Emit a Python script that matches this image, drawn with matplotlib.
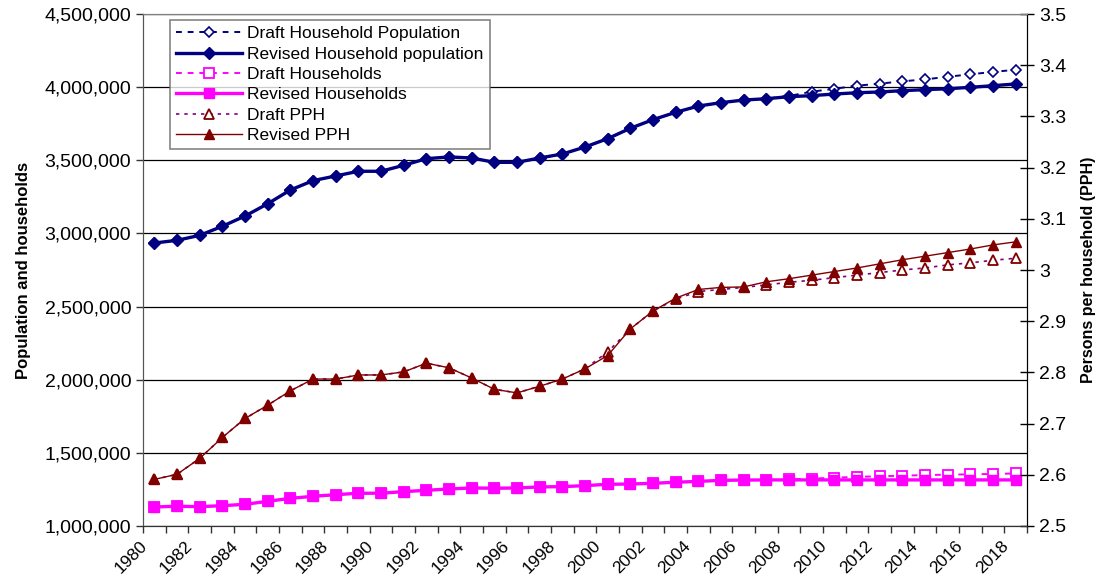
import matplotlib
matplotlib.use("Agg")
from matplotlib import pyplot as plt
from matplotlib.transforms import ScaledTranslation
import numpy as np

plt.rcParams['font.family'] = ['Liberation Sans', 'DejaVu Sans']

years = list(range(1980, 2019))

draft_pop = [2934600, 2953000, 2987000, 3049000, 3119000, 3203000, 3297000, 3361000,
             3393000, 3425000, 3425000, 3466000, 3511000, 3523000, 3516000, 3486000,
             3486000, 3516000, 3543000, 3591000, 3648000, 3719000, 3778000, 3828000,
             3871000, 3894000, 3912000, 3921000, 3940000, 3969000, 3989000, 4010000,
             4024000, 4040000, 4053000, 4071000, 4088000, 4104000, 4119000]
revised_pop = [2934600, 2953000, 2987000, 3049000, 3119000, 3203000, 3297000, 3361000,
               3393000, 3425000, 3425000, 3466000, 3511000, 3523000, 3516000, 3486000,
               3486000, 3516000, 3543000, 3591000, 3648000, 3719000, 3778000, 3828000,
               3871000, 3894000, 3912000, 3921000, 3935000, 3942000, 3953000, 3962000,
               3967000, 3976000, 3983000, 3989000, 3999000, 4010000, 4022000]
draft_hh = [1130000, 1135000, 1132000, 1139000, 1148000, 1169000, 1189000, 1203000,
            1214000, 1224000, 1224000, 1235000, 1244000, 1253000, 1260000, 1258000,
            1260000, 1267000, 1269000, 1276000, 1285000, 1287000, 1292000, 1299000,
            1305000, 1312000, 1314000, 1315000, 1318000, 1324000, 1330000, 1336000,
            1340000, 1344000, 1348000, 1351000, 1353000, 1356000, 1359000]
revised_hh = [1130000, 1135000, 1132000, 1139000, 1148000, 1169000, 1189000, 1203000,
              1214000, 1224000, 1224000, 1235000, 1244000, 1253000, 1260000, 1258000,
              1260000, 1267000, 1269000, 1276000, 1285000, 1287000, 1292000, 1299000,
              1305000, 1312000, 1314000, 1315000, 1315000, 1315000, 1315000, 1315000,
              1315000, 1315000, 1315000, 1315000, 1315000, 1315000, 1315000]
draft_pph = [2.591, 2.601, 2.632, 2.673, 2.710, 2.736, 2.764, 2.787, 2.787, 2.795,
             2.795, 2.801, 2.818, 2.809, 2.789, 2.767, 2.760, 2.773, 2.787, 2.807,
             2.840, 2.885, 2.920, 2.943, 2.958, 2.962, 2.966, 2.971, 2.976, 2.980,
             2.985, 2.990, 2.995, 3.000, 3.004, 3.010, 3.014, 3.019, 3.023]
revised_pph = [2.591, 2.601, 2.632, 2.673, 2.710, 2.736, 2.764, 2.787, 2.787, 2.795,
               2.795, 2.801, 2.818, 2.809, 2.789, 2.767, 2.760, 2.773, 2.787, 2.807,
               2.833, 2.885, 2.920, 2.945, 2.962, 2.966, 2.967, 2.977, 2.983, 2.990,
               2.997, 3.004, 3.012, 3.020, 3.027, 3.034, 3.041, 3.049, 3.055]

navy = '#000080'
pink = '#FF00FF'
maroon = '#800000'
purple = '#800080'

x = np.arange(len(years)) + 0.5

fig = plt.figure(figsize=(10.97, 5.77), dpi=100)
ax = fig.add_axes([0.1304, 0.0884, 0.8058, 0.8873])
ax2 = ax.twinx()

lines = []
lines += ax.plot(x, draft_pop, linestyle=(0, (3, 3)), lw=1.4, color=navy, marker='D',
                 ms=5.5, mfc='white', mec=navy, mew=1.2, label='Draft Household Population')
lines += ax.plot(x, revised_pop, '-', lw=2.4, color=navy, marker='D', ms=6.5,
                 label='Revised Household population')
lines += ax.plot(x, draft_hh, linestyle=(0, (3, 3)), lw=1.4, color=pink, marker='s',
                 ms=6.5, mfc='white', mec=pink, mew=1.3, label='Draft Households')
lines += ax.plot(x, revised_hh, '-', lw=2.4, color=pink, marker='s', ms=7.5,
                 label='Revised Households')
lines += ax2.plot(x, draft_pph, linestyle=(0, (2, 3)), lw=1.2, color=purple, marker='^',
                  ms=6.5, mfc='white', mec=maroon, mew=1.3, label='Draft PPH')
lines += ax2.plot(x, revised_pph, '-', lw=1.0, color=maroon, marker='^', ms=7,
                  mfc=maroon, mec=maroon, label='Revised PPH')

ax.set_xlim(0, len(years))
ax.set_ylim(1000000, 4500000)
ax.set_yticks(np.arange(1000000, 4500001, 500000))
ax.yaxis.set_major_formatter(matplotlib.ticker.StrMethodFormatter('{x:,.0f}'))
ax.grid(axis='y', color='black', lw=0.9)
ax.set_axisbelow(True)

ax2.set_ylim(2.5, 3.5)
ax2.set_yticks(np.arange(2.5, 3.51, 0.1))
ax2.set_yticklabels(['2.5', '2.6', '2.7', '2.8', '2.9', '3', '3.1', '3.2', '3.3', '3.4', '3.5'])

# boundary ticks, labels at every other category
ax.set_xticks(np.arange(0, len(years) + 1))
ax.set_xticklabels([])
ax.set_xticks(x[::2], [str(y) for y in years[::2]], minor=True)
ax.tick_params(axis='x', which='major', length=5, width=1, color='#333333')
ax.tick_params(axis='x', which='minor', length=0, pad=9, labelsize=12.5)
off = ScaledTranslation(-0.15, 0, fig.dpi_scale_trans)
for lab in ax.get_xticklabels(minor=True):
    lab.set_rotation(45)
    lab.set_ha('right')
    lab.set_va('top')
    lab.set_rotation_mode('anchor')
    lab.set_transform(lab.get_transform() + off)

ax.tick_params(axis='y', length=5, width=1, labelsize=14, color='#333333')
ax2.tick_params(axis='y', direction='inout', length=10, width=1, labelsize=14)

for a in (ax, ax2):
    a.spines['top'].set_color('#808080')
    a.spines['left'].set_color('#555555')
    a.spines['bottom'].set_color('#333333')
    a.spines['right'].set_color('black')

ax.set_ylabel('Population and households', fontsize=12, fontweight='bold', labelpad=10)
ax2.set_ylabel('Persons per household (PPH)', fontsize=11.5, fontweight='bold',
               rotation=90, labelpad=11)

leg = ax.legend(handles=lines, loc='upper left', bbox_to_anchor=(0.0305, 0.988),
                borderaxespad=0, fontsize=12.5, frameon=True, fancybox=False,
                edgecolor='#666666', handlelength=3.8, borderpad=0.35,
                labelspacing=0.3, handletextpad=0.3)
leg.get_frame().set_linewidth(1.2)
leg.set_zorder(10)

plt.savefig('out.png', dpi=100)
